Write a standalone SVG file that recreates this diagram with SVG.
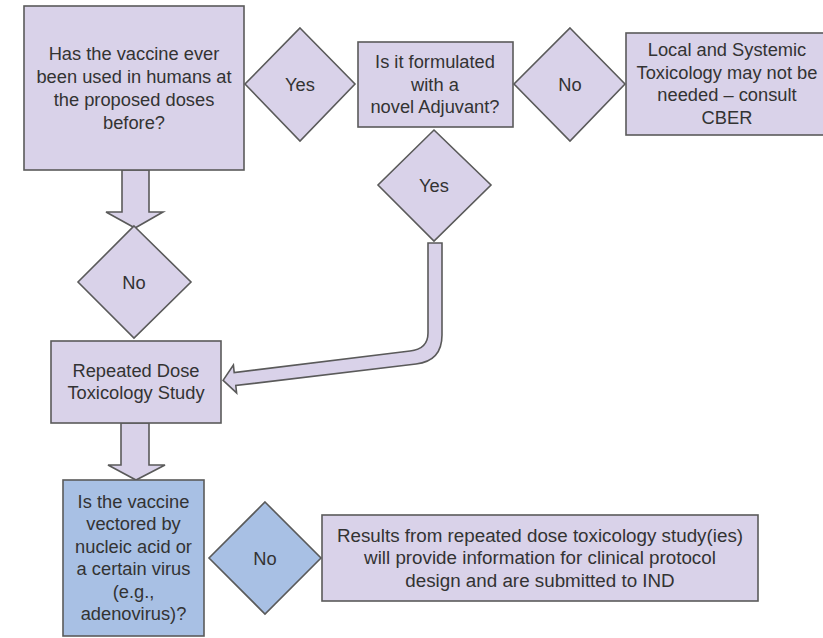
<svg xmlns="http://www.w3.org/2000/svg" width="823" height="638" viewBox="0 0 823 638">
<style>
.p{fill:#d9d2e9;stroke:#5a5a5a;stroke-width:1.6}
.b{fill:#a8c0e4;stroke:#5a5a5a;stroke-width:1.6}
.a{fill:#d9d2e9;stroke:#5a5a5a;stroke-width:1.6;stroke-linejoin:miter}
text{font-family:"Liberation Sans",Arial,sans-serif;font-size:18.3px;fill:#333333;text-anchor:middle}
.r{font-size:18.8px}
</style>
<rect width="823" height="638" fill="#ffffff"/>
<g id="connectors">
<polygon class="a" points="122,170 149,170 149,212 163,212 135,228 106,212 122,212"/>
<polygon class="a" points="121,423 149,423 149,465 165,465 136,480 108,465 121,465"/>
<path class="a" d="M428 243 L442 243 L442 335 Q442 361 416 364 L235.8 385.5 L236.6 392.9 L223.1 380.4 L233.4 365.1 L234.2 372.5 L410 351 Q428 349 428 333 Z"/>
</g>
<g id="q1">
<rect class="p" x="24" y="6" width="220" height="164"/>
<text x="134" y="60">Has the vaccine ever</text>
<text x="134" y="83">been used in humans at</text>
<text x="134" y="106">the proposed doses</text>
<text x="134" y="129">before?</text>
</g>
<g id="yes1">
<polygon class="p" points="300,28 355,84 300,141 245,84"/>
<text x="300" y="90.5">Yes</text>
</g>
<g id="q2">
<rect class="p" x="358" y="42" width="155" height="85"/>
<text x="435" y="68">Is it formulated</text>
<text x="435" y="91">with a</text>
<text x="435" y="113">novel Adjuvant?</text>
</g>
<g id="no2">
<polygon class="p" points="570,28 625,84 570,141 514,84"/>
<text x="570" y="90.5">No</text>
</g>
<g id="consult">
<rect class="p" x="626" y="33" width="202" height="102"/>
<text x="727" y="56">Local and Systemic</text>
<text x="727" y="79">Toxicology may not be</text>
<text x="727" y="101">needed – consult</text>
<text x="727" y="124">CBER</text>
</g>
<g id="yes2">
<polygon class="p" points="434,130 491,185 434,241 378,185"/>
<text x="434" y="191.5">Yes</text>
</g>
<g id="no1">
<polygon class="p" points="134,226 191,282 134,338 78,282"/>
<text x="134" y="288.5">No</text>
</g>
<g id="repeated">
<rect class="p" x="51" y="341" width="170" height="82"/>
<text x="136" y="376.5">Repeated Dose</text>
<text x="136" y="398.5">Toxicology Study</text>
</g>
<g id="q3">
<rect class="b" x="63" y="480" width="141" height="156"/>
<text x="133.5" y="507.5">Is the vaccine</text>
<text x="133.5" y="530">vectored by</text>
<text x="133.5" y="552.5">nucleic acid or</text>
<text x="133.5" y="575">a certain virus</text>
<text x="133.5" y="597.5">(e.g.,</text>
<text x="133.5" y="620">adenovirus)?</text>
</g>
<g id="no3">
<polygon class="b" points="265,502 321,558 265,614 209,558"/>
<text x="265" y="564.5">No</text>
</g>
<g id="results">
<rect class="p" x="322" y="515" width="436" height="86"/>
<text class="r" x="540" y="541.5">Results from repeated dose toxicology study(ies)</text>
<text class="r" x="540" y="564">will provide information for clinical protocol</text>
<text class="r" x="540" y="586.5">design and are submitted to IND</text>
</g>
</svg>
